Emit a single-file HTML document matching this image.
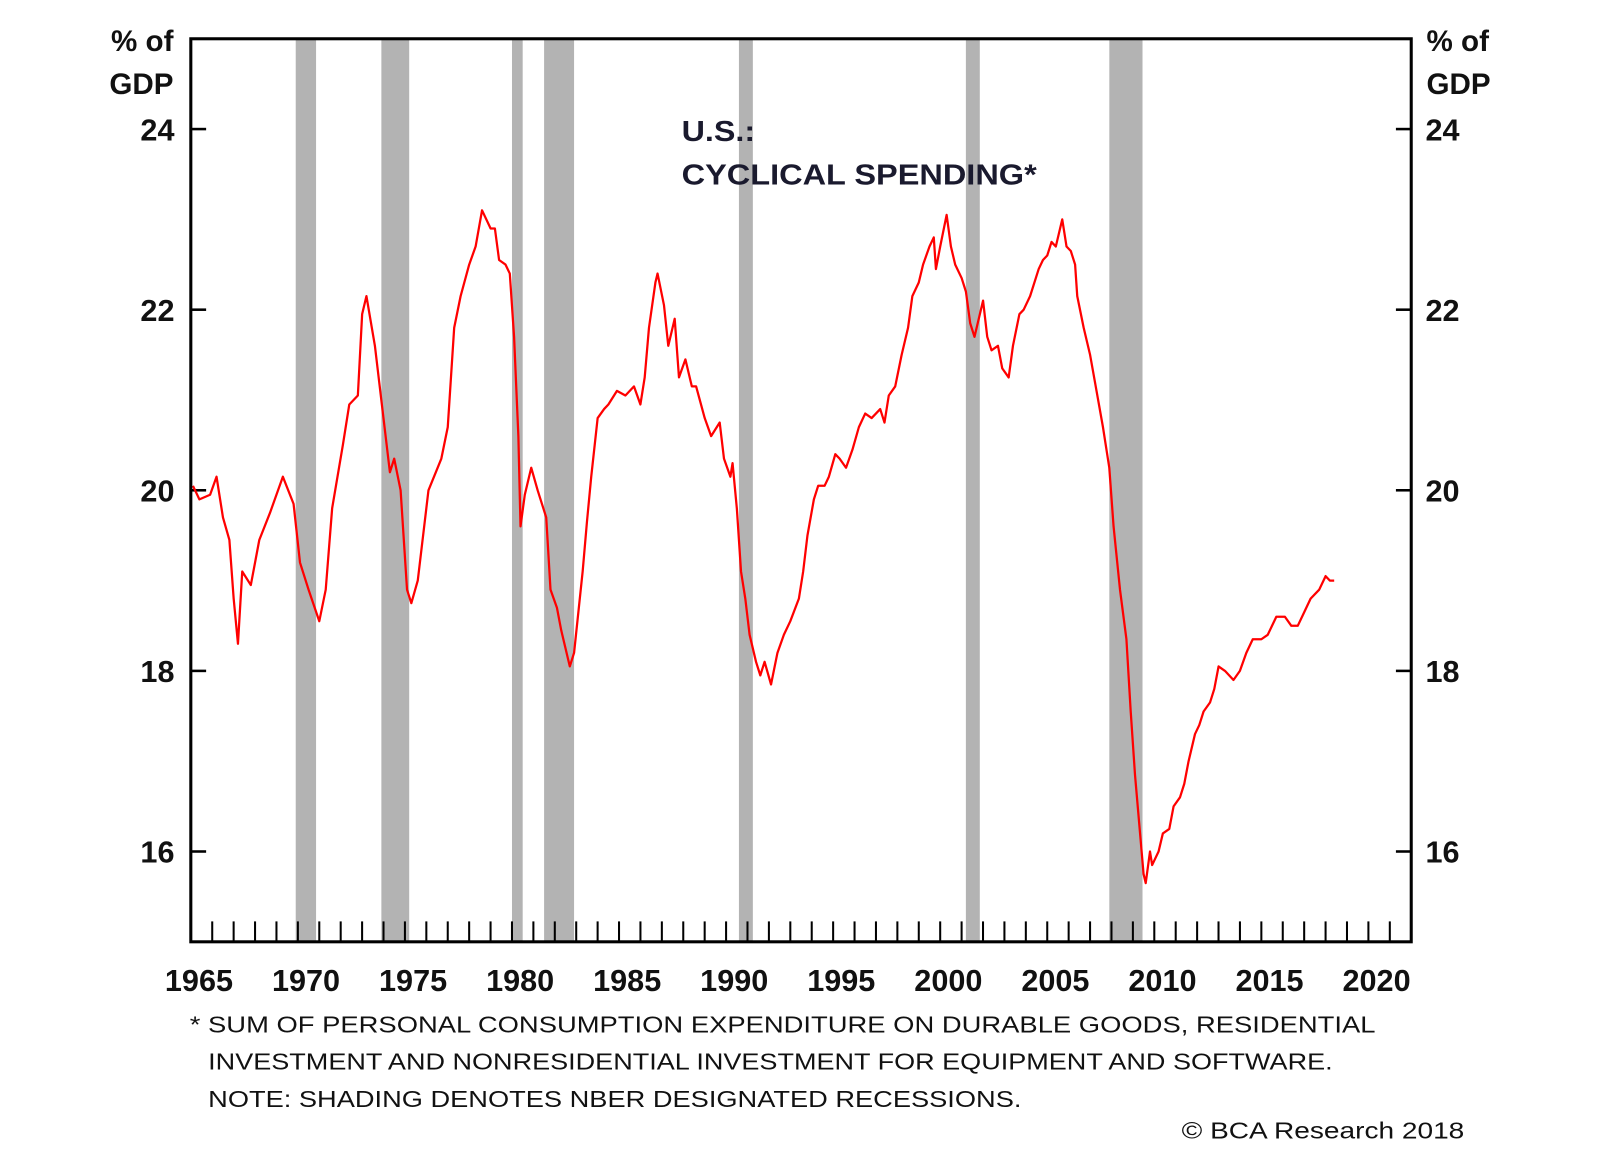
<!DOCTYPE html>
<html><head><meta charset="utf-8"><style>
body{margin:0;background:#fff;}
svg{display:block;font-family:"Liberation Sans",Arial,sans-serif;}
</style></head><body>
<svg id="chart" width="1600" height="1152" viewBox="0 0 1568 1129" preserveAspectRatio="none">
<g id="shades"></g>
<g id="ticks"></g>
<path id="line" fill="none" stroke="#ff0000" stroke-width="2.2" stroke-linejoin="round"/>
<rect x="187" y="38" width="1196" height="885" fill="none" stroke="#000" stroke-width="3"/>
<g id="ylabels" font-size="30" font-weight="bold" fill="#111"></g>
<g id="xlabels" font-size="30" font-weight="bold" fill="#111"></g>
<text x="170" y="50" font-size="29" font-weight="bold" text-anchor="end" fill="#111"><tspan x="170">% of</tspan><tspan x="170" dy="42">GDP</tspan></text>
<text x="1398" y="50" font-size="29" font-weight="bold" fill="#111"><tspan x="1398">% of</tspan><tspan x="1398" dy="42">GDP</tspan></text>
<text x="668" y="138" font-size="28" font-weight="bold" fill="#1a1a2e" textLength="72" lengthAdjust="spacingAndGlyphs">U.S.:</text>
<text x="668" y="181" font-size="28" font-weight="bold" fill="#1a1a2e" textLength="348" lengthAdjust="spacingAndGlyphs">CYCLICAL SPENDING*</text>
<g font-size="23" fill="#111">
<text x="186" y="1012" textLength="1162" lengthAdjust="spacingAndGlyphs">* SUM OF PERSONAL CONSUMPTION EXPENDITURE ON DURABLE GOODS, RESIDENTIAL</text>
<text x="204" y="1048" textLength="1102" lengthAdjust="spacingAndGlyphs">INVESTMENT AND NONRESIDENTIAL INVESTMENT FOR EQUIPMENT AND SOFTWARE.</text>
<text x="204" y="1085" textLength="797" lengthAdjust="spacingAndGlyphs">NOTE: SHADING DENOTES NBER DESIGNATED RECESSIONS.</text>
<text x="1158" y="1116" textLength="277" lengthAdjust="spacingAndGlyphs">© BCA Research 2018</text>
</g>
</svg>
<script>
const years=[1965.1,1965.4,1965.9,1966.2,1966.5,1966.8,1967.0,1967.2,1967.4,1967.8,1968.2,1968.7,1969.3,1969.8,1970.1,1970.5,1971.0,1971.3,1971.6,1972.1,1972.4,1972.8,1973.0,1973.2,1973.6,1974.0,1974.3,1974.5,1974.8,1975.1,1975.3,1975.6,1976.1,1976.7,1977.0,1977.3,1977.6,1978.0,1978.3,1978.6,1979.0,1979.2,1979.4,1979.7,1979.9,1980.1,1980.3,1980.4,1980.6,1980.9,1981.2,1981.6,1981.8,1982.1,1982.3,1982.7,1982.9,1983.3,1983.5,1983.7,1984.0,1984.3,1984.5,1984.9,1985.3,1985.7,1986.0,1986.2,1986.4,1986.7,1986.8,1987.1,1987.3,1987.4,1987.6,1987.8,1988.1,1988.4,1988.6,1989.0,1989.3,1989.7,1989.9,1990.2,1990.3,1990.5,1990.7,1990.9,1991.1,1991.4,1991.6,1991.8,1992.1,1992.4,1992.7,1993.0,1993.4,1993.6,1993.8,1994.1,1994.3,1994.6,1994.8,1995.1,1995.3,1995.6,1995.9,1996.2,1996.5,1996.8,1997.2,1997.4,1997.6,1997.9,1998.2,1998.5,1998.7,1999.0,1999.2,1999.5,1999.7,1999.8,2000.0,2000.3,2000.5,2000.7,2001.0,2001.2,2001.4,2001.6,2001.8,2002.0,2002.2,2002.4,2002.7,2002.9,2003.2,2003.4,2003.7,2003.9,2004.2,2004.6,2004.8,2005.0,2005.2,2005.4,2005.7,2005.8,2005.9,2006.1,2006.3,2006.4,2006.7,2007.0,2007.3,2007.6,2007.9,2008.1,2008.4,2008.7,2008.9,2009.1,2009.3,2009.5,2009.6,2009.8,2009.9,2010.2,2010.4,2010.7,2010.9,2011.2,2011.4,2011.6,2011.9,2012.1,2012.3,2012.6,2012.8,2013.0,2013.3,2013.7,2014.0,2014.3,2014.6,2015.0,2015.3,2015.7,2016.1,2016.4,2016.7,2017.0,2017.3,2017.7,2018.0,2018.2,2018.4];
const values=[20.05,19.9,19.95,20.15,19.7,19.45,18.8,18.3,19.1,18.95,19.45,19.75,20.15,19.85,19.2,18.9,18.55,18.9,19.8,20.5,20.95,21.05,21.95,22.15,21.6,20.8,20.2,20.35,20.0,18.9,18.75,19.0,20.0,20.35,20.7,21.8,22.15,22.5,22.7,23.1,22.9,22.9,22.55,22.5,22.4,21.7,20.6,19.6,19.95,20.25,20.0,19.7,18.9,18.7,18.45,18.05,18.2,19.1,19.65,20.15,20.8,20.9,20.95,21.1,21.05,21.15,20.95,21.25,21.8,22.3,22.4,22.05,21.6,21.7,21.9,21.25,21.45,21.15,21.15,20.8,20.6,20.75,20.35,20.15,20.3,19.8,19.1,18.8,18.4,18.1,17.95,18.1,17.85,18.2,18.4,18.55,18.8,19.1,19.5,19.9,20.05,20.05,20.15,20.4,20.35,20.25,20.45,20.7,20.85,20.8,20.9,20.75,21.05,21.15,21.5,21.8,22.15,22.3,22.5,22.7,22.8,22.45,22.7,23.05,22.7,22.5,22.35,22.2,21.85,21.7,21.9,22.1,21.7,21.55,21.6,21.35,21.25,21.6,21.95,22.0,22.15,22.45,22.55,22.6,22.75,22.7,23.0,22.85,22.7,22.65,22.5,22.15,21.8,21.5,21.1,20.7,20.25,19.6,18.9,18.35,17.55,16.85,16.3,15.75,15.65,16.0,15.85,16.0,16.2,16.25,16.5,16.6,16.75,17.0,17.3,17.4,17.55,17.65,17.8,18.05,18.0,17.9,18.0,18.2,18.35,18.35,18.4,18.6,18.6,18.5,18.5,18.65,18.8,18.9,19.05,19.0,19.0];
const recStart=[1969.9,1973.9,1980.0,1981.5,1990.6,2001.2,2007.9];
const recEnd=[1970.85,1975.2,1980.5,1982.9,1991.25,2001.85,2009.45];
const yTicks=[16,18,20,22,24];
const xTickLabels=[1965,1970,1975,1980,1985,1990,1995,2000,2005,2010,2015,2020];
const NS="http://www.w3.org/2000/svg";
const X0=187,X1=1383,Y0=38,Y1=923,XMIN=1965,XMAX=2022,YMIN=15,YMAX=25;
function xs(v){return X0+(v-XMIN)/(XMAX-XMIN)*(X1-X0);}
function ys(v){return Y1-(v-YMIN)/(YMAX-YMIN)*(Y1-Y0);}
function mk(t,a){const e=document.createElementNS(NS,t);for(const k in a)e.setAttribute(k,a[k]);return e;}
const sh=document.getElementById('shades');
recStart.forEach((s,i)=>{const r=mk('rect',{x:xs(s),y:Y0,width:xs(recEnd[i])-xs(s),height:Y1-Y0,fill:'#b3b3b3'});


sh.appendChild(r);});
const tk=document.getElementById('ticks');
for(let yr=1966;yr<=2021;yr++){const l=mk('line',{x1:xs(yr),x2:xs(yr),y1:Y1-20,y2:Y1,stroke:'#000','stroke-width':2});


tk.appendChild(l);}
const yl=document.getElementById('ylabels');
yTicks.forEach(v=>{
const a=mk('line',{x1:X0,x2:X0+15,y1:ys(v),y2:ys(v),stroke:'#000','stroke-width':2.5});


tk.appendChild(a);
const b=mk('line',{x1:X1-15,x2:X1,y1:ys(v),y2:ys(v),stroke:'#000','stroke-width':2.5});


tk.appendChild(b);
const t=mk('text',{x:171,y:ys(v)+11,'text-anchor':'end'});t.textContent=v;


yl.appendChild(t);
const t2=mk('text',{x:1397,y:ys(v)+11});t2.textContent=v;


yl.appendChild(t2);});
const xl=document.getElementById('xlabels');
xTickLabels.forEach(v=>{const t=mk('text',{x:xs(v)+8,y:971,'text-anchor':'middle'});t.textContent=v;


xl.appendChild(t);});
document.getElementById('line').setAttribute('d',years.map((y,i)=>(i?'L':'M')+xs(y).toFixed(1)+','+ys(values[i]).toFixed(1)).join(''));
</script>
</body></html>
